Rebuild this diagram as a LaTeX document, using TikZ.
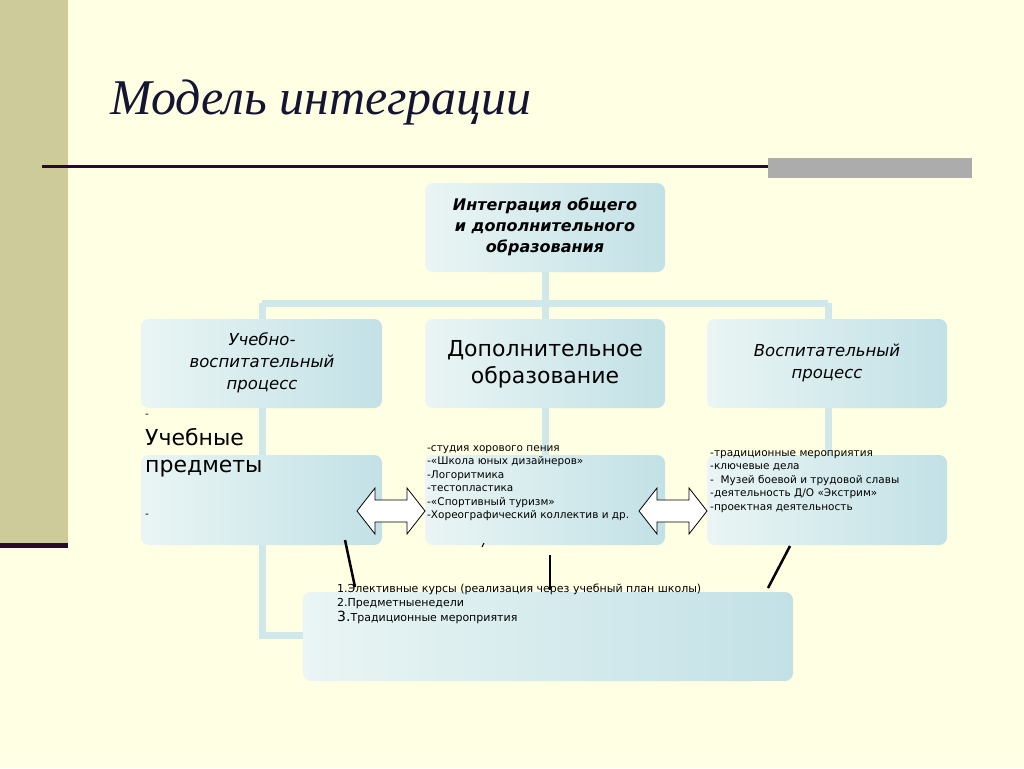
\documentclass[tikz,border=0pt]{standalone}
\usepackage{fontspec}
\setmainfont{DejaVu Sans}
\newfontfamily\titlefont{Liberation Serif}
\usetikzlibrary{positioning}

\definecolor{paper}{HTML}{FFFFE3}
\definecolor{olive}{HTML}{CCCB99}
\definecolor{plum}{HTML}{2A0A2A}
\definecolor{ink}{HTML}{141433}
\definecolor{boxlight}{HTML}{EAF5F4}
\definecolor{boxdark}{HTML}{C2E1E6}
\definecolor{link}{HTML}{D0E8EA}

\tikzset{
  card/.style={rounded corners=8pt, left color=boxlight, right color=boxdark, draw=none},
  linkline/.style={draw=link, line width=7pt},
  tag/.style={align=center, text=black},
  list/.style={anchor=north west, align=left, font=\fontsize{10.5}{13.5}\selectfont, inner sep=0pt},
  swap/.style={draw=black, fill=white, line width=0.8pt}
}
% double arrow centred at a coordinate
\newcommand{\swaparrow}[1]{%
  \draw[swap] ($(#1)+(-34,0)$) -- ++(18,-23) -- ++(0,12) -- ++(32,0) -- ++(0,-12)
    -- ++(18,23) -- ++(-18,23) -- ++(0,-12) -- ++(-32,0) -- ++(0,12) -- cycle;}
\usetikzlibrary{calc}

\begin{document}
\begin{tikzpicture}[x=1pt,y=-1pt]
  \fill[paper] (0,0) rectangle (1024,768);
  \fill[olive] (0,0) rectangle (68,545);
  \fill[plum] (0,543) rectangle (68,548);
  \fill[plum] (42,165) rectangle (972,167.5);
  \fill[gray!65] (768,158) rectangle (972,178);
  \node[anchor=west, inner sep=0pt, text=ink] (title) at (110,102)
    {\titlefont\itshape\fontsize{50}{54}\selectfont Модель интеграции};

  % connectors
  \draw[linkline] (545,272) -- (545,303);
  \draw[linkline] (262,303) -- (828,303);
  \draw[linkline] (262,303) -- (262,635) -- (310,635);
  \draw[linkline] (545,303) -- (545,470);
  \draw[linkline] (828,303) -- (828,470);

  % boxes
  \path[card] (425,183) rectangle (665,272);
  \path[card] (141,319) rectangle (382,408);
  \path[card] (425,319) rectangle (665,408);
  \path[card] (707,319) rectangle (947,408);
  \path[card] (141,455) rectangle (382,545);
  \path[card] (425,455) rectangle (665,545);
  \path[card] (707,455) rectangle (947,545);
  \path[card] (303,592) rectangle (793,681);

  \node[tag, font=\bfseries\itshape\fontsize{16}{21}\selectfont] (integr) at (545,227)
    {Интеграция общего\\и дополнительного\\образования};
  \node[tag, font=\itshape\fontsize{16.5}{22}\selectfont] (uvp) at (262,363)
    {Учебно-\\воспитательный\\процесс};
  \node[tag, font=\fontsize{22}{27}\selectfont] (dop) at (545,364)
    {Дополнительное\\образование};
  \node[tag, font=\itshape\fontsize{16.5}{22}\selectfont] (vosp) at (827,363)
    {Воспитательный\\процесс};

  \node[list] (minus1) at (145,414) {-};
  \node[list, font=\fontsize{22}{27}\selectfont] (subj) at (145,428) {Учебные\\предметы};
  \node[list] (minus2) at (145,514) {-};
  \node[list] (studio) at (427,445)
    {-студия хорового пения\\-«Школа юных дизайнеров»\\-Логоритмика\\-тестопластика\\-«Спортивный туризм»\\-Хореографический коллектив и др.};
  \node[list] (events) at (710,450)
    {-традиционные мероприятия\\-ключевые дела\\- \ Музей боевой и трудовой славы\\-деятельность Д/О «Экстрим»\\-проектная деятельность};
  \node[list, font=\fontsize{11}{14}\selectfont] (bottom) at (337,584)
    {1.Элективные курсы (реализация через учебный план школы)\\2.Предметныенедели\\[1pt]{\fontsize{14}{16}\selectfont 3.}Традиционные мероприятия};

  % arrows between rows
  \coordinate (arrowA) at (391,511);
  \coordinate (arrowB) at (673,511);
  \swaparrow{arrowA}
  \swaparrow{arrowB}

  % black links
  \coordinate (a1) at (345,540); \coordinate (a2) at (355,587);
  \coordinate (b1) at (550,555); \coordinate (b2) at (550,590);
  \coordinate (c1) at (790,546); \coordinate (c2) at (768,588);
  \coordinate (d1) at (484,543); \coordinate (d2) at (482,547);
  \draw[line width=2.5pt] (a1) -- (a2);
  \draw[line width=2.5pt] (b1) -- (b2);
  \draw[line width=2.5pt] (c1) -- (c2);
  \draw[line width=1pt] (d1) -- (d2);
\end{tikzpicture}
\end{document}
